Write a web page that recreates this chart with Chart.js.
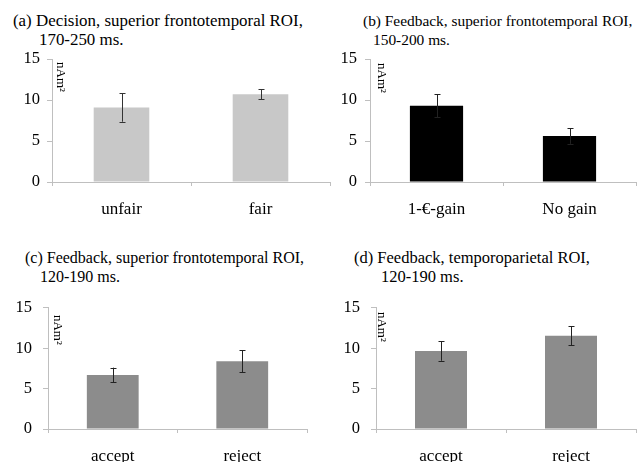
<!DOCTYPE html>
<html>
<head>
<meta charset="utf-8">
<script src="https://cdn.jsdelivr.net/npm/chart.js@4.4.0/dist/chart.umd.min.js"></script>
<style>
  body { margin: 0; background: #fff; }
  #wrap { position: relative; width: 637px; height: 462px; overflow: hidden; background: #fff; }
  canvas { position: absolute; }
  .ttl { position: absolute; font-family: "Liberation Serif", serif; font-size: 16px; line-height: 16px; color: #000; white-space: nowrap; }
</style>
</head>
<body>
<div id="wrap">
  <div class="ttl" style="left:13px; top:13px; font-size:16.9px;">(a) Decision, superior frontotemporal ROI,</div>
  <div class="ttl" style="left:39px; top:32px; font-size:16.9px;">170-250 ms.</div>
  <div class="ttl" style="left:363px; top:13px; font-size:15.4px;">(b) Feedback, superior frontotemporal ROI,</div>
  <div class="ttl" style="left:373px; top:32px; font-size:15.4px;">150-200 ms.</div>
  <div class="ttl" style="left:25px; top:250px; font-size:16px;">(c) Feedback, superior frontotemporal ROI,</div>
  <div class="ttl" style="left:40px; top:269px; font-size:16px;">120-190 ms.</div>
  <div class="ttl" style="left:354px; top:250px; font-size:16.5px;">(d) Feedback, temporoparietal ROI,</div>
  <div class="ttl" style="left:381px; top:269px; font-size:16.5px;">120-190 ms.</div>

  <canvas id="chartA" width="335" height="190" style="left:0px; top:40px;"></canvas>
  <canvas id="chartB" width="302" height="190" style="left:335px; top:40px;"></canvas>
  <canvas id="chartC" width="318" height="175" style="left:0px; top:287px;"></canvas>
  <canvas id="chartD" width="319" height="175" style="left:318px; top:287px;"></canvas>
</div>
<script>
// values (nAm^2), error = half length of the whisker
const labelsA = ['unfair', 'fair'];
const meansA = [9.1, 10.7];
const errsA = [1.75, 0.63];

const labelsB = ['1-€-gain', 'No gain'];
const meansB = [9.3, 5.6];
const errsB = [1.4, 0.95];

const labelsC = ['accept', 'reject'];
const meansC = [6.7, 8.4];
const errsC = [0.9, 1.35];

const labelsD = ['accept', 'reject'];
const meansD = [9.65, 11.55];
const errsD = [1.2, 1.2];

const yTicks = [0, 5, 10, 15];

const SERIF = '"Liberation Serif", "Times New Roman", serif';
const AXIS_COLOR = '#bfbfbf';

// draws whiskers with small caps on top of each bar
const errorBarPlugin = {
    id: 'errorBars',
    afterDatasetsDraw(chart, args, opts) {
        const ctx = chart.ctx;
        const yScale = chart.scales.y;
        const meta = chart.getDatasetMeta(0);
        const means = chart.data.datasets[0].data;
        ctx.save();
        ctx.strokeStyle = opts.color || '#222';
        ctx.lineWidth = 1;
        meta.data.forEach((bar, i) => {
            const err = opts.errors[i];
            const x = Math.round(bar.x) + 0.5;
            const yTop = yScale.getPixelForValue(means[i] + err);
            const yBot = yScale.getPixelForValue(means[i] - err);
            ctx.beginPath();
            ctx.moveTo(x, yTop);
            ctx.lineTo(x, yBot);
            ctx.moveTo(x - 3, Math.round(yTop) + 0.5);
            ctx.lineTo(x + 3, Math.round(yTop) + 0.5);
            ctx.moveTo(x - 3, Math.round(yBot) + 0.5);
            ctx.lineTo(x + 3, Math.round(yBot) + 0.5);
            ctx.stroke();
        });
        ctx.restore();
    }
};

// rotated unit label inside the plot area
const unitPlugin = {
    id: 'unitLabel',
    afterDraw(chart, args, opts) {
        const ctx = chart.ctx;
        const area = chart.chartArea;
        ctx.save();
        ctx.translate(area.left + opts.dx, area.top + opts.dy);
        ctx.rotate(Math.PI / 2);
        ctx.font = '13px ' + SERIF;
        ctx.fillStyle = '#000';
        ctx.textBaseline = 'alphabetic';
        ctx.textAlign = 'left';
        ctx.fillText('nAm²', 0, 0);
        ctx.restore();
    }
};

function makeChart(id, labels, means, errs, p) {
    const canvas = document.getElementById(id);
    return new Chart(canvas.getContext('2d'), {
        type: 'bar',
        data: {
            labels: labels,
            datasets: [{
                data: means,
                backgroundColor: p.color,
                borderWidth: 0,
                categoryPercentage: 1.0,
                barPercentage: 0.4
            }]
        },
        options: {
            responsive: false,
            animation: false,
            layout: { padding: { top: p.top, right: p.right, left: 0, bottom: 0 } },
            plugins: {
                legend: { display: false },
                tooltip: { enabled: false },
                errorBars: { errors: errs, color: p.whisker },
                unitLabel: { dx: p.unitX, dy: p.unitY }
            },
            scales: {
                x: {
                    grid: { display: true, drawOnChartArea: false, tickLength: 4, color: AXIS_COLOR },
                    border: { color: AXIS_COLOR },
                    ticks: { color: '#000', padding: 13, font: { family: SERIF, size: 17 } },
                    afterFit: (scale) => { scale.height = p.xHeight; }
                },
                y: {
                    min: 0,
                    max: 15,
                    afterBuildTicks: (scale) => { scale.ticks = yTicks.map(v => ({ value: v })); },
                    grid: { display: true, drawOnChartArea: false, tickLength: 5, color: AXIS_COLOR },
                    border: { color: AXIS_COLOR },
                    ticks: { color: '#000', padding: p.tickPad, font: { family: SERIF, size: 16.5 } },
                    afterFit: (scale) => { scale.width = p.left; }
                }
            }
        },
        plugins: [errorBarPlugin, unitPlugin]
    });
}

makeChart('chartA', labelsA, meansA, errsA,
    { color: '#c8c8c8', whisker: '#333', left: 52, right: 5, top: 19, xHeight: 48, tickPad: 7, unitX: 5, unitY: 3 });
makeChart('chartB', labelsB, meansB, errsB,
    { color: '#000000', whisker: '#222', left: 35, right: 1, top: 19, xHeight: 48, tickPad: 8, unitX: 8, unitY: 4 });
makeChart('chartC', labelsC, meansC, errsC,
    { color: '#8c8c8c', whisker: '#222', left: 48, right: 11, top: 19, xHeight: 33, tickPad: 11, unitX: 6, unitY: 7 });
makeChart('chartD', labelsD, meansD, errsD,
    { color: '#8c8c8c', whisker: '#222', left: 58, right: 1, top: 19, xHeight: 33, tickPad: 11, unitX: 2, unitY: 4 });
</script>
</body>
</html>
